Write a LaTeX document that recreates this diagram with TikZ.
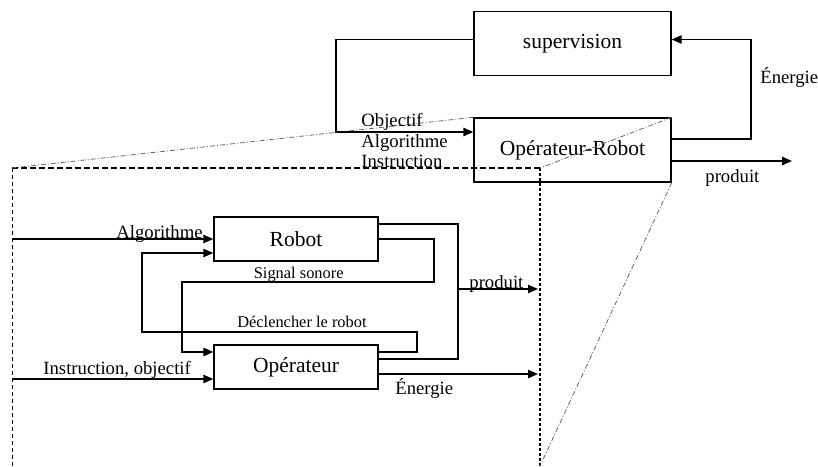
\documentclass[tikz,border=0pt]{standalone}
\usepackage{fontspec}
\setmainfont{Liberation Serif}
\usetikzlibrary{arrows.meta,calc}

\newcommand{\grandtexte}{\fontsize{10.75}{12}\selectfont}
\newcommand{\moyentexte}{\fontsize{9.35}{11}\selectfont}
\newcommand{\petittexte}{\fontsize{8.2}{10}\selectfont}

\begin{document}
\begin{tikzpicture}[
            x=0.5pt, y=-0.5pt,
            >={Triangle[length=5pt,width=4.2pt]},
            bloc/.style={draw, line width=0.7pt, inner sep=0pt, font=\grandtexte},
            grandbloc/.style={bloc, minimum width=98.5pt, minimum height=32pt},
            petitbloc/.style={bloc, minimum width=82pt, minimum height=22pt},
            lien/.style={line width=0.75pt},
            etiq/.style={inner sep=0pt, font=\moyentexte},
            petitetiq/.style={inner sep=0pt, font=\petittexte},
            cadre/.style={line width=0.8pt, dash pattern=on 3pt off 1.5pt},
            zoomtrait/.style={line width=0.4pt, black!60, dash pattern=on 2.5pt off 1pt on 0.5pt off 1pt}
        ]
            \useasboundingbox (0,0) rectangle (818,466);

            % blocs du haut
            \node[grandbloc] (sup) at (572.5,43.5) {supervision};
            \node[grandbloc] (opr) at (572.5,150) {Opérateur-Robot};

            % blocs du detail
            \node[petitbloc] (rob) at (296,239) {Robot};
            \node[petitbloc] (ope) at (296,367) {Opérateur};

            % points de passage
            \coordinate (sl) at (336,132);
            \coordinate (sr) at (751,39.5);
            \coordinate (pt) at (792,161);
            \coordinate (al) at (12,239);
            \coordinate (in) at (12,379);
            \coordinate (en) at (538,374);
            \coordinate (d1) at (417,332);
            \coordinate (d2) at (142,253);
            \coordinate (s1) at (434,282);
            \coordinate (s2) at (182,352);
            \coordinate (p1) at (458,289);
            \coordinate (pr) at (538,289);
            \coordinate (zl) at (12,168);
            \coordinate (zr) at (540,168);
            \coordinate (zb) at (540,466);
            \coordinate (zg) at (12,466);

            % cadre du detail
            \draw[cadre] (zl) -- (zr);
            \draw[cadre, line width=0.5pt, dash pattern=on 2pt off 1.5pt] (zl) -- (zg);
            \draw[cadre, line width=1pt, dash pattern=on 1.7pt off 0.8pt] (zr) -- (zb);
            \draw[zoomtrait] (opr.north west) -- (zl);
            \draw[zoomtrait] (opr.north east) -- (zr);
            \draw[zoomtrait] (opr.south east) -- (zb);

            % liens du haut
            \draw[lien, ->] ($(sup.west)+(0,-4)$) -| (sl) -- (sl -| opr.west);
            \draw[lien, ->] ($(opr.east)+(0,-11)$) -| (sr) -- (sr -| sup.east);
            \draw[lien, ->] ($(opr.east)+(0,11)$) -- (pt);

            % liens du detail
            \draw[lien, ->] (al) -- (rob.west);
            \draw[lien, ->] (in) -- (in -| ope.west);
            \draw[lien, ->] ($(ope.east)+(0,7)$) -- (en);
            \draw[lien, ->] ($(ope.east)+(0,-15)$) -| (d1) -| (d2) -- (d2 -| rob.west);
            \draw[lien, ->] (rob.east) -| (s1) -| (s2) -- (s2 -| ope.west);
            \draw[lien] ($(rob.east)+(0,-15)$) -| (p1) |- ($(ope.east)+(0,-8)$);
            \draw[lien, ->] (p1) -- (pr);

            % etiquettes
            \node[etiq, anchor=base west] (lob) at (361,126) {Objectif};
            \node[etiq, anchor=base west] (lalg) at (361,147) {Algorithme};
            \node[etiq, anchor=base west] (lins) at (361,167) {Instruction};
            \node[etiq, anchor=base west] (lenh) at (760,83) {Énergie};
            \node[etiq, anchor=base west] (lprh) at (705,182) {produit};
            \node[etiq, anchor=base east] (lalb) at (203,238) {Algorithme};
            \node[etiq, anchor=base west] (linb) at (43,374) {Instruction, objectif};
            \node[etiq, anchor=base west] (lprb) at (469,288) {produit};
            \node[etiq, anchor=base west] (lenb) at (395,394) {Énergie};
            \node[petitetiq, anchor=base east] (lsig) at (344,278) {Signal sonore};
            \node[petitetiq, anchor=base east] (ldec) at (367,327) {Déclencher le robot};
        \end{tikzpicture}
\end{document}
